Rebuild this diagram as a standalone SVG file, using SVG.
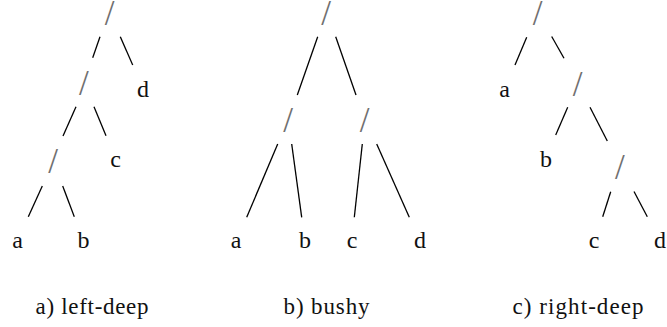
<svg xmlns="http://www.w3.org/2000/svg" width="667" height="327" viewBox="0 0 667 327">
<style>
.op{font-family:"Liberation Serif","Times New Roman",serif;font-size:35px;fill:#707070;text-anchor:middle}
.lf{font-family:"Liberation Serif","Times New Roman",serif;font-size:24px;fill:#111;text-anchor:middle}
.cap{font-family:"Liberation Serif","Times New Roman",serif;font-size:23px;fill:#111;text-anchor:middle}
.e line{stroke:#000;stroke-width:1.3;stroke-linecap:butt}
</style>
<rect width="667" height="327" fill="#fff"/>
<g id="tree-left-deep">
  <g id="a-j1"><text class="op" x="109.7" y="24.5">/</text></g>
  <g id="a-j2"><text class="op" x="83.8" y="94.5">/</text></g>
  <g id="a-j3"><text class="op" x="53" y="173">/</text></g>
  <g id="a-d"><text class="lf" x="143" y="97">d</text></g>
  <g id="a-c"><text class="lf" x="115.5" y="167">c</text></g>
  <g id="a-a"><text class="lf" x="17.5" y="248">a</text></g>
  <g id="a-b"><text class="lf" x="83.5" y="248">b</text></g>
  <g class="e" id="a-edges">
    <line x1="100" y1="36.7" x2="92.7" y2="57.7"/>
    <line x1="120.3" y1="36.7" x2="132.7" y2="65"/>
    <line x1="76" y1="106.7" x2="63" y2="136"/>
    <line x1="94" y1="106.7" x2="106" y2="135.7"/>
    <line x1="42.3" y1="186" x2="28.3" y2="216.7"/>
    <line x1="62.7" y1="186" x2="74.3" y2="216.7"/>
  </g>
  <text class="cap" x="92" y="314" textLength="113" lengthAdjust="spacing">a) left-deep</text>
</g>
<g id="tree-bushy">
  <g id="b-j1"><text class="op" x="326.2" y="24.5">/</text></g>
  <g id="b-j2"><text class="op" x="288.2" y="132">/</text></g>
  <g id="b-j3"><text class="op" x="364.5" y="132">/</text></g>
  <g id="b-a"><text class="lf" x="236" y="248">a</text></g>
  <g id="b-b"><text class="lf" x="305" y="248">b</text></g>
  <g id="b-c"><text class="lf" x="352" y="248">c</text></g>
  <g id="b-d"><text class="lf" x="420" y="248">d</text></g>
  <g class="e" id="b-edges">
    <line x1="317.7" y1="36.7" x2="297.3" y2="95"/>
    <line x1="335.7" y1="36.7" x2="356" y2="95"/>
    <line x1="277.7" y1="144" x2="246.7" y2="217.3"/>
    <line x1="291.7" y1="144" x2="301.7" y2="217.3"/>
    <line x1="362.3" y1="144" x2="354.3" y2="217.3"/>
    <line x1="376.7" y1="144" x2="409.3" y2="217.3"/>
  </g>
  <text class="cap" x="326.5" y="314" textLength="86" lengthAdjust="spacing">b) bushy</text>
</g>
<g id="tree-right-deep">
  <g id="c-j1"><text class="op" x="537.5" y="24.5">/</text></g>
  <g id="c-j2"><text class="op" x="577.5" y="95.5">/</text></g>
  <g id="c-j3"><text class="op" x="619.8" y="178.5">/</text></g>
  <g id="c-a"><text class="lf" x="504.5" y="97">a</text></g>
  <g id="c-b"><text class="lf" x="546" y="167">b</text></g>
  <g id="c-c"><text class="lf" x="594" y="248">c</text></g>
  <g id="c-d"><text class="lf" x="660" y="248">d</text></g>
  <g class="e" id="c-edges">
    <line x1="526.7" y1="37.3" x2="515" y2="65"/>
    <line x1="551.7" y1="36.5" x2="564" y2="58.3"/>
    <line x1="567.7" y1="107.3" x2="555.7" y2="135"/>
    <line x1="590" y1="107.3" x2="607.3" y2="141"/>
    <line x1="610.7" y1="191.7" x2="602.7" y2="216.7"/>
    <line x1="634" y1="191.5" x2="647.3" y2="216.7"/>
  </g>
  <text class="cap" x="578" y="314" textLength="131" lengthAdjust="spacing">c) right-deep</text>
</g>
</svg>
